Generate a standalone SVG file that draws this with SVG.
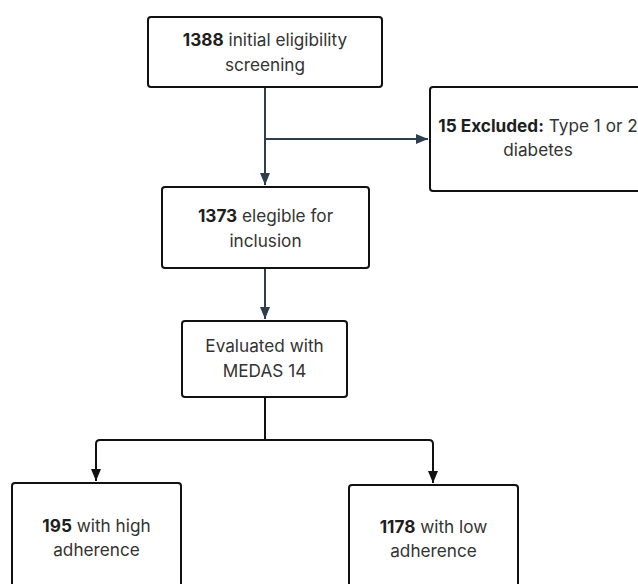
<svg xmlns="http://www.w3.org/2000/svg" width="638" height="584" viewBox="0 0 638 584">
<defs>
<style>
.box{fill:#ffffff;stroke:#111111;stroke-width:2}
.t{font-family:Inter,"Liberation Sans",sans-serif;font-size:17.2px;fill:#333333;text-anchor:middle}
.b{font-weight:700;fill:#1e1e1e}
.c1{fill:none;stroke:#2e3e4c;stroke-width:2}
.c2{fill:none;stroke:#111111;stroke-width:2}
</style>
<marker id="a1" viewBox="0 0 12 10" refX="12" refY="5" markerWidth="6" markerHeight="5" orient="auto" markerUnits="strokeWidth">
<path d="M0,0 L12,5 L0,10 z" fill="#2e3e4c"/>
</marker>
<marker id="a2" viewBox="0 0 12 10" refX="12" refY="5" markerWidth="6" markerHeight="5" orient="auto" markerUnits="strokeWidth">
<path d="M0,0 L12,5 L0,10 z" fill="#111111"/>
</marker>
</defs>
<rect width="638" height="584" fill="#ffffff"/>
<g id="connectors">
<path class="c1" d="M265,87 V185" marker-end="url(#a1)"/>
<path class="c1" d="M265,139 H428" marker-end="url(#a1)"/>
<path class="c1" d="M265,268 V319" marker-end="url(#a1)"/>
<path class="c2" d="M265,397 V440"/>
<path class="c2" d="M265,440 H100 Q96,440 96,444 V481" marker-end="url(#a2)"/>
<path class="c2" d="M265,440 H429 Q433,440 433,444 V483" marker-end="url(#a2)"/>
</g>
<g id="n1">
<rect class="box" x="148" y="17" width="234" height="70" rx="3"/>
<text class="t" x="265" y="45.5"><tspan class="b">1388</tspan> initial eligibility</text>
<text class="t" x="265" y="71">screening</text>
</g>
<g id="n2">
<rect class="box" x="430" y="87" width="216" height="104" rx="3"/>
<text class="t" x="538" y="132"><tspan class="b">15 Excluded:</tspan> Type 1 or 2</text>
<text class="t" x="538" y="156">diabetes</text>
</g>
<g id="n3">
<rect class="box" x="162" y="187" width="207" height="81" rx="3"/>
<text class="t" x="265.5" y="222"><tspan class="b">1373</tspan> elegible for</text>
<text class="t" x="265.5" y="247">inclusion</text>
</g>
<g id="n4">
<rect class="box" x="182" y="321" width="165" height="76" rx="3"/>
<text class="t" x="264.5" y="352">Evaluated with</text>
<text class="t" x="264.5" y="377">MEDAS 14</text>
</g>
<g id="n5">
<rect class="box" x="12" y="483" width="169" height="125" rx="3"/>
<text class="t" x="96.5" y="532"><tspan class="b">195</tspan> with high</text>
<text class="t" x="96.5" y="556">adherence</text>
</g>
<g id="n6">
<rect class="box" x="349" y="485" width="169" height="125" rx="3"/>
<text class="t" x="433.5" y="533"><tspan class="b">1178</tspan> with low</text>
<text class="t" x="433.5" y="557">adherence</text>
</g>
</svg>
